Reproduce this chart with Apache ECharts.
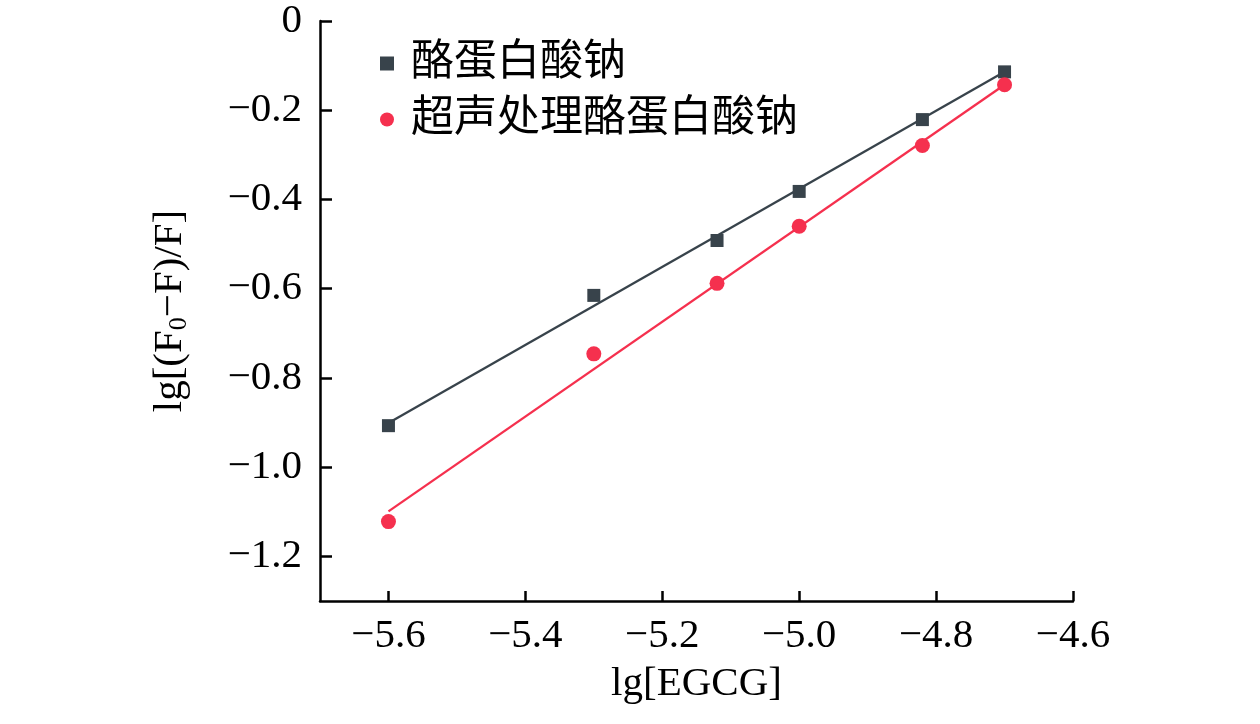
<!DOCTYPE html>
<html>
<head>
<meta charset="utf-8">
<script src="https://cdn.jsdelivr.net/npm/echarts@6/dist/echarts.min.js"></script>
<style>
html,body{margin:0;padding:0;background:#fff;}
#main{width:1260px;height:724px;}
</style>
</head>
<body>
<div id="main"></div>
<script>
// Data
var xValues = [-5.6, -5.3, -5.12, -5.0, -4.82, -4.7];
var caseinate = [-0.907, -0.615, -0.492, -0.382, -0.221, -0.114];
var ultrasonicCaseinate = [-1.122, -0.746, -0.588, -0.460, -0.279, -0.143];
// fitted line endpoints
var fitX = [-5.6, -4.7];
var caseinateFit = [-0.901, -0.114];
var ultrasonicFit = [-1.099, -0.143];
var seriesNames = ['酪蛋白酸钠', '超声处理酪蛋白酸钠'];
var xTicks = [-5.6, -5.4, -5.2, -5.0, -4.8, -4.6];
var yTicks = [0, -0.2, -0.4, -0.6, -0.8, -1.0, -1.2];

var darkColor = '#38434b';
var redColor = '#f5304e';
var serif = '"Liberation Serif","Times New Roman","Noto Sans CJK SC",serif';

function pairs(xs, ys) { return xs.map(function (x, i) { return [x, ys[i]]; }); }
function fmt(v) {
  if (Math.abs(v) < 1e-9) return '0';
  return '\u2212' + Math.abs(v).toFixed(1);
}

var chart = echarts.init(document.getElementById('main'));
chart.setOption({
  backgroundColor: '#fff',
  animation: false,
  grid: { left: 320, right: 187, top: 21, bottom: 123, containLabel: false },
  legend: {
    data: [
      { name: seriesNames[0], icon: 'rect', itemStyle: { color: darkColor, opacity: 1 } },
      { name: seriesNames[1], icon: 'circle', itemStyle: { color: redColor, opacity: 1 } }
    ],
    orient: 'vertical',
    left: 375,
    top: 37,
    itemWidth: 14,
    itemHeight: 14,
    itemGap: 13,
    textStyle: { fontSize: 43, color: '#000', fontFamily: serif, padding: [0, 0, 0, 12] }
  },
  xAxis: {
    type: 'value',
    min: -5.7,
    max: -4.6,
    interval: 0.2,
    name: 'lg[EGCG]',
    nameLocation: 'middle',
    nameGap: 63,
    nameTextStyle: { fontSize: 41, color: '#000', fontFamily: serif },
    axisLine: { show: true, onZero: false, lineStyle: { color: '#000', width: 2.5 } },
    axisTick: { show: true, inside: true, length: 10, lineStyle: { color: '#000', width: 2.5 }, customValues: xTicks },
    axisLabel: { fontSize: 41, color: '#000', fontFamily: serif, margin: 15, customValues: xTicks, formatter: fmt },
    splitLine: { show: false }
  },
  yAxis: {
    type: 'value',
    min: -1.3,
    max: 0,
    name: '{n|lg[(F}{s|0}{n|\u2212F)/F]}',
    nameLocation: 'middle',
    nameGap: 128,
    nameRotate: 90,
    nameTextStyle: {
      rich: {
        n: { fontSize: 41, color: '#000', fontFamily: serif },
        s: { fontSize: 26, color: '#000', fontFamily: serif, padding: [18, 0, 0, 0] }
      }
    },
    axisLine: { show: true, onZero: false, lineStyle: { color: '#000', width: 2.5 } },
    axisTick: { show: true, inside: true, length: 12, lineStyle: { color: '#000', width: 2.5 }, customValues: yTicks },
    axisLabel: { fontSize: 41, color: '#000', fontFamily: serif, margin: 18, customValues: yTicks, formatter: fmt },
    splitLine: { show: false }
  },
  series: [
    {
      name: seriesNames[0] + ' fit', type: 'line', data: pairs(fitX, caseinateFit),
      symbol: 'none', lineStyle: { color: darkColor, width: 2.3 }, silent: true, z: 2
    },
    {
      name: seriesNames[1] + ' fit', type: 'line', data: pairs(fitX, ultrasonicFit),
      symbol: 'none', lineStyle: { color: redColor, width: 2.3 }, silent: true, z: 2
    },
    {
      name: seriesNames[0], type: 'scatter', data: pairs(xValues, caseinate),
      symbol: 'rect', symbolSize: 13, itemStyle: { color: darkColor, opacity: 1 }, z: 3
    },
    {
      name: seriesNames[1], type: 'scatter', data: pairs(xValues, ultrasonicCaseinate),
      symbol: 'circle', symbolSize: 15, itemStyle: { color: redColor, opacity: 1 }, z: 3
    }
  ]
});
</script>
</body>
</html>
